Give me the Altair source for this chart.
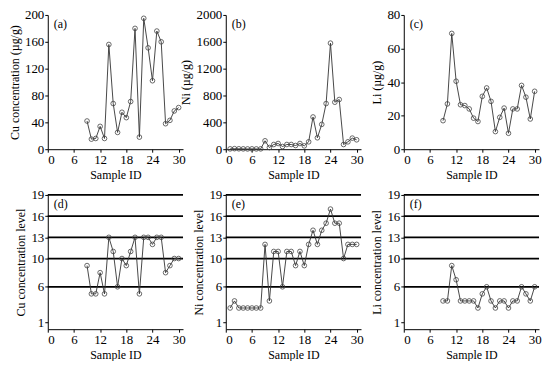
import altair as alt
import pandas as pd

FONT = "Liberation Serif"

ids_all = [1, 2, 3, 4, 5, 6, 7, 8, 9, 10, 11, 12, 13, 14, 15, 16, 17, 18, 19, 20,
           21, 22, 23, 24, 25, 26, 27, 28, 29, 30]
ids_late = [9, 10, 11, 12, 13, 14, 15, 16, 17, 18, 19, 20, 21, 22, 23, 24, 25, 26,
            27, 28, 29, 30]

cu = [42, 15, 16, 34, 16, 156, 68, 25, 55, 47, 71, 180, 18, 195, 151, 102, 176,
      160, 38, 43, 57, 62]
ni = [5, 8, 6, 5, 4, 5, 4, 5, 125, 25, 70, 85, 40, 70, 70, 55, 85, 50, 110, 480,
      170, 370, 680, 1580, 700, 740, 70, 110, 165, 140]
li = [17, 27, 69, 40.5, 26.5, 26, 24, 18.5, 16.5, 31.5, 36.5, 28.5, 10.5, 19,
      24.5, 9.5, 24, 24, 38, 31, 18, 34.5]

cu_level = [9, 5, 5, 8, 5, 13, 11, 6, 10, 9, 11, 13, 5, 13, 13, 12, 13, 13, 8, 9,
            10, 10]
ni_level = [3, 4, 3, 3, 3, 3, 3, 3, 12, 4, 11, 11, 6, 11, 11, 9, 11, 9, 12, 14, 12,
            14, 15, 17, 15, 15, 10, 12, 12, 12]
li_level = [4, 4, 9, 7, 4, 4, 4, 4, 3, 5, 6, 4, 3, 4, 4, 3, 4, 4, 6, 5, 4, 6]

level_lines = [6, 10, 13, 16, 19]
x_ticks = [0, 6, 12, 18, 24, 30]
level_ticks = [1, 6, 10, 13, 16, 19]

W = 136
H = 135


def panel(ids, vals, ytitle, ydomain, yticks, tag, levels=False):
    df = pd.DataFrame({"id": ids, "v": vals})
    xenc = alt.X("id:Q", scale=alt.Scale(domain=[0, 31], nice=False, zero=False),
                 axis=alt.Axis(values=x_ticks, title="Sample ID", format="d"))
    yscale = alt.Scale(domain=ydomain, nice=False, zero=False)
    yaxis = alt.Axis(values=yticks, title=ytitle, format="d")
    yenc = alt.Y("v:Q", scale=yscale, axis=yaxis)
    layers = []
    if levels:
        rules = alt.Chart(pd.DataFrame({"v": level_lines})).mark_rule(
            color="black", strokeWidth=1.8
        ).encode(y=alt.Y("v:Q", scale=yscale, axis=yaxis))
        layers.append(rules)
    line = alt.Chart(df).mark_line(color="#333333", strokeWidth=0.9).encode(x=xenc, y=yenc)
    pts = alt.Chart(df).mark_point(
        shape="circle", filled=False, color="#444444", size=22, strokeWidth=0.8, opacity=1
    ).encode(x=xenc, y=yenc)
    label = alt.Chart(pd.DataFrame({"t": [tag]})).mark_text(
        align="left", baseline="top", font=FONT, fontSize=12, color="black"
    ).encode(x=alt.value(6), y=alt.value(4), text="t:N")
    layers += [line, pts, label]
    return alt.layer(*layers).properties(width=W, height=H)


pa = panel(ids_late, cu, "Cu concentration  (µg/g)", [0, 200], [0, 40, 80, 120, 160, 200], "(a)")
pb = panel(ids_all, ni, "Ni  (µg/g)", [0, 2000], [0, 400, 800, 1200, 1600, 2000], "(b)")
pc = panel(ids_late, li, "Li (µg/g)", [0, 80], [0, 20, 40, 60, 80], "(c)")
pd_ = panel(ids_late, cu_level, "Cu concentration level", [0, 19], level_ticks, "(d)", True)
pe = panel(ids_all, ni_level, "Ni concentration level", [0, 19], level_ticks, "(e)", True)
pf = panel(ids_late, li_level, "Li concentration level", [0, 19], level_ticks, "(f)", True)

chart = alt.concat(
    pa, pb, pc, pd_, pe, pf, columns=3,
    spacing={"row": 46, "column": 43}, bounds="flush"
).properties(background="white", padding=0).configure_view(stroke=None).configure_axis(
    labelFont=FONT, titleFont=FONT, labelFontSize=13, titleFontSize=12,
    titleFontWeight="normal", labelColor="black", titleColor="black",
    domainColor="black", tickColor="black", grid=False, tickSize=3,
    labelPadding=1, titlePadding=3
)

chart.save("out.html", embed_options={"renderer": "svg", "actions": False})
